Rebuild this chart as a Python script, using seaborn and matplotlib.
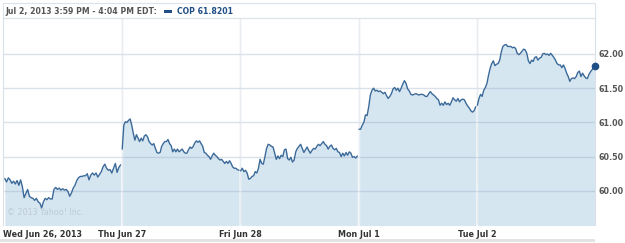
import numpy as np
import pandas as pd
import matplotlib
matplotlib.use("Agg")
import matplotlib.pyplot as plt
from matplotlib.patches import Rectangle
import seaborn as sns

# ---- data (COP intraday prices) ----
day_labels = ["Wed Jun 26, 2013", "Thu Jun 27", "Fri Jun 28", "Mon Jul 1", "Tue Jul 2"]

wed = [60.18, 60.13, 60.19, 60.16, 60.11, 60.14, 60.10, 60.15, 60.08, 60.16, 60.06, 59.90,
       59.96, 60.02, 59.92, 59.90, 59.89, 59.86, 59.89, 59.84, 59.82, 59.75, 59.84, 59.89,
       59.87, 59.90, 59.88, 59.88, 60.02, 60.05, 60.02, 60.04, 60.01, 60.03, 60.01, 60.02,
       59.99, 59.92, 59.97, 60.04, 60.08, 60.15, 60.19, 60.21, 60.21, 60.22, 60.22, 60.25,
       60.16, 60.23, 60.26, 60.23, 60.26, 60.20, 60.24, 60.28, 60.35, 60.39, 60.33, 60.30,
       60.31, 60.26, 60.33, 60.40, 60.27, 60.34, 60.38]

thu = [60.61, 60.96, 61.01, 61.00, 61.03, 61.05, 60.96, 60.84, 60.74, 60.82, 60.77, 60.72,
       60.77, 60.73, 60.80, 60.82, 60.79, 60.72, 60.69, 60.67, 60.69, 60.62, 60.56, 60.55,
       60.56, 60.65, 60.69, 60.72, 60.72, 60.75, 60.69, 60.66, 60.57, 60.61, 60.57, 60.61,
       60.57, 60.59, 60.61, 60.57, 60.55, 60.55, 60.60, 60.64, 60.62, 60.65, 60.70, 60.73,
       60.71, 60.73, 60.69, 60.65, 60.56, 60.55, 60.52, 60.50, 60.46, 60.51, 60.55, 60.52,
       60.50, 60.47, 60.45, 60.46, 60.43, 60.40, 60.43, 60.40, 60.44, 60.40, 60.35, 60.33,
       60.33, 60.31, 60.30]

fri = [60.29, 60.33, 60.28, 60.30, 60.26, 60.17, 60.18, 60.21, 60.22, 60.28, 60.26, 60.33,
       60.46, 60.40, 60.39, 60.50, 60.62, 60.68, 60.67, 60.65, 60.64, 60.55, 60.46, 60.51,
       60.47, 60.52, 60.50, 60.60, 60.61, 60.47, 60.45, 60.49, 60.42, 60.45, 60.57, 60.62,
       60.65, 60.68, 60.62, 60.56, 60.60, 60.64, 60.59, 60.55, 60.59, 60.62, 60.61, 60.65,
       60.68, 60.66, 60.69, 60.72, 60.68, 60.66, 60.61, 60.65, 60.67, 60.62, 60.60, 60.62,
       60.57, 60.56, 60.50, 60.55, 60.51, 60.56, 60.52, 60.57, 60.55, 60.49, 60.50, 60.48,
       60.51]

mon = [60.90, 60.90, 60.96, 61.00, 61.11, 61.10, 61.23, 61.40, 61.47, 61.50, 61.46, 61.47,
       61.45, 61.46, 61.44, 61.42, 61.44, 61.39, 61.35, 61.38, 61.42, 61.49, 61.51, 61.47,
       61.50, 61.45, 61.50, 61.56, 61.61, 61.57, 61.49, 61.46, 61.41, 61.40, 61.41, 61.42,
       61.41, 61.40, 61.41, 61.41, 61.40, 61.38, 61.38, 61.42, 61.45, 61.42, 61.40, 61.38,
       61.35, 61.33, 61.25, 61.28, 61.25, 61.30, 61.26, 61.28, 61.25, 61.30, 61.36, 61.33,
       61.31, 61.35, 61.30, 61.33, 61.34, 61.33, 61.28, 61.24, 61.21, 61.17, 61.15, 61.17,
       61.23]

tue = [61.25, 61.35, 61.41, 61.38, 61.47, 61.51, 61.57, 61.69, 61.79, 61.86, 61.90, 61.83,
       61.85, 61.86, 61.91, 62.03, 62.11, 62.13, 62.14, 62.11, 62.11, 62.11, 62.09, 62.10,
       62.08, 62.01, 61.99, 62.01, 62.04, 62.07, 62.06, 62.01, 61.90, 61.86, 61.91, 61.89,
       61.95, 61.96, 61.91, 61.94, 61.95, 62.00, 62.01, 61.99, 62.00, 61.98, 62.01, 61.98,
       61.95, 61.91, 61.86, 61.84, 61.84, 61.80, 61.84, 61.79, 61.72, 61.67, 61.60, 61.64,
       61.65, 61.64, 61.67, 61.73, 61.75, 61.67, 61.72, 61.68, 61.65, 61.64, 61.70, 61.74,
       61.77, 61.80, 61.82]

y_ticks = [60.00, 60.50, 61.00, 61.50, 62.00]
header = "Jul 2, 2013 3:59 PM - 4:04 PM EDT:"
legend_text = "COP 61.8201"
watermark = "\u00a9 2013 Yahoo! Inc."

days = [wed, thu, fri, mon, tue]
frames = []
for i, vals in enumerate(days):
    end = 1.0 if i == len(days) - 1 else 0.99
    pos = i + np.linspace(0.012 if i == 0 else 0.004, end, len(vals))
    frames.append(pd.DataFrame({"day": i, "t": pos, "price": vals}))
df = pd.concat(frames, ignore_index=True)

# ---- style ----
sns.set_theme(style="white")
plt.rcParams["font.family"] = ["DejaVu Sans"]

W, H = 625, 243
fig = plt.figure(figsize=(W / 100, H / 100), dpi=100)
ax = fig.add_axes([3.4 / W, 1 - 225.3 / H, (595.3 - 3.4) / W, (225.3 - 18) / H])

line_c = "#3b6a99"
fill_c = "#d6e6f1"
grid_c = "#d3dce6"

ax.set_xlim(0, 5)
ax.set_ylim(59.496, 62.526)

for d in range(1, 5):
    ax.axvline(d, color=grid_c, lw=1.0, zorder=0.5)

for i, g in df.groupby("day"):
    ax.fill_between(g["t"], g["price"], 59.3, color=fill_c, lw=0, zorder=1)

for v in y_ticks:
    ax.axhline(v, color=(0.55, 0.64, 0.75, 0.32), lw=1.0, zorder=1.5)
for d in range(1, 5):
    ax.axvline(d, ymin=0, ymax=1, color=(1, 1, 1, 0.5), lw=1.0, zorder=1.6)

sns.lineplot(data=df, x="t", y="price", units="day", estimator=None,
             color=line_c, lw=1.0, ax=ax, zorder=3, legend=False)
last = df.iloc[-1]
ax.plot([last["t"]], [last["price"]], "o", color="#1f4f86", ms=4.5, zorder=4, clip_on=False)

ax.set_xlabel("")
ax.set_ylabel("")
ax.set_xticks(range(5))
ax.set_xticklabels(day_labels, fontsize=5.8, fontweight="bold", color="#333333")
ax.get_xticklabels()[0].set_horizontalalignment("left")
ax.tick_params(axis="x", length=0, pad=3.4)
ax.yaxis.tick_right()
ax.set_yticks(y_ticks)
ax.set_yticklabels([f"{v:.2f}" for v in y_ticks], fontsize=5.8, fontweight="bold", color="#555555")
ax.tick_params(axis="y", length=0, pad=2.5)

for s in ["top", "left", "right"]:
    ax.spines[s].set_color("#d9e0e8")
    ax.spines[s].set_linewidth(0.8)
ax.spines["bottom"].set_visible(False)

ax.text(0.006, 0.04, watermark, transform=ax.transAxes, fontsize=5.8, color="#bfcbd6", va="bottom")

# header box
fig.patches.append(Rectangle((3 / W, 1 - 18 / H), 592 / W, 15 / H, transform=fig.transFigure,
                             fill=False, ec="#dde3ea", lw=0.8))
fig.text(5 / W, 1 - 11.5 / H, header, fontsize=5.6, fontweight="bold", color="#555555", va="center")
fig.patches.append(Rectangle((164 / W, 1 - 13 / H), 8 / W, 3 / H, transform=fig.transFigure,
                             color="#1f4f86", lw=0))
fig.text(177 / W, 1 - 11.5 / H, legend_text, fontsize=5.6, fontweight="bold", color="#1f4f86", va="center")

# bottom band
fig.patches.append(Rectangle((0, 1 - 242 / H), 595 / W, 3 / H, transform=fig.transFigure,
                             color="#e3e3e3", lw=0))

fig.savefig("out.png", dpi=100)
